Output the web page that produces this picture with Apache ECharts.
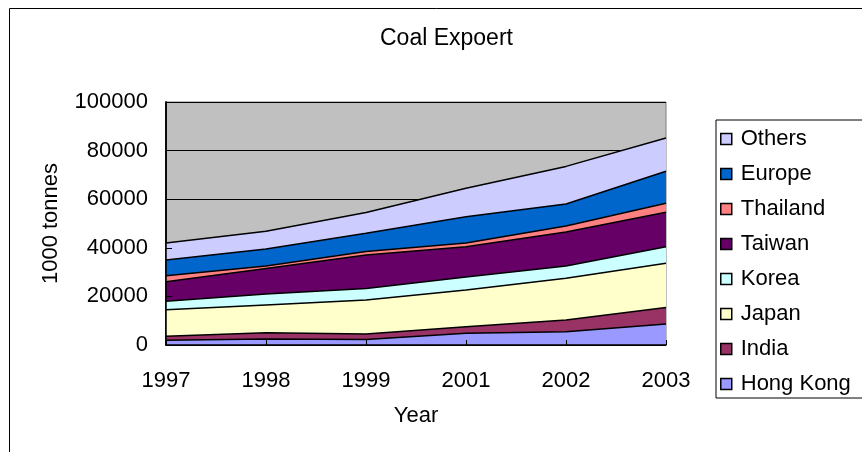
<!DOCTYPE html>
<html>
<head>
<meta charset="utf-8">
<script src="https://cdn.jsdelivr.net/npm/echarts@6/dist/echarts.min.js"></script>
<style>
  html, body { margin: 0; padding: 0; background: #fff; }
  #chart { width: 862px; height: 452px; }
</style>
</head>
<body>
<div id="chart"></div>
<script>
const years = ['1997', '1998', '1999', '2001', '2002', '2003']

const hongKong = [2000, 2500, 2300, 4800, 5500, 8600]
const india    = [1600, 2500, 2200, 2700, 4800, 6800]
const japan    = [10900, 11500, 14000, 15100, 17200, 18200]
const korea    = [3500, 4500, 4800, 5400, 5000, 6800]
const taiwan   = [8000, 10500, 13700, 12400, 14000, 14200]
const thailand = [2500, 1000, 1500, 1600, 2500, 3700]
const europe   = [6500, 7000, 7500, 10800, 9000, 13200]
const others   = [7000, 7300, 8500, 11700, 15500, 13700]

const legendOrder = ['Others', 'Europe', 'Thailand', 'Taiwan', 'Korea', 'Japan', 'India', 'Hong Kong']

const font = 'Liberation Sans, Arial, sans-serif'

function areaSeries(name, data, color) {
  return {
    name,
    type: 'line',
    stack: 'total',
    data,
    symbol: 'none',
    smooth: false,
    lineStyle: { color: '#000', width: 1.5 },
    itemStyle: { color },
    areaStyle: { color, opacity: 1 }
  }
}

const chart = echarts.init(document.getElementById('chart'))

chart.setOption({
  animation: false,
  textStyle: { fontFamily: font },
  title: {
    text: 'Coal Expoert',
    left: 375,
    top: 22,
    textStyle: { fontFamily: font, fontSize: 23, fontWeight: 'normal', color: '#000' }
  },
  graphic: [{
    type: 'rect',
    shape: { x: 9.5, y: 8.5, width: 900, height: 500 },
    style: { fill: 'none', stroke: '#000', lineWidth: 1 },
    silent: true
  }],
  legend: {
    orient: 'vertical',
    left: 716,
    top: 120,
    data: legendOrder,
    icon: 'rect',
    itemWidth: 11,
    itemHeight: 11,
    itemGap: 13,
    padding: [8, 60, 3, 4],
    borderColor: '#000',
    borderWidth: 1,
    backgroundColor: '#fff',
    itemStyle: { borderColor: '#000', borderWidth: 1.5 },
    lineStyle: { width: 0 },
    textStyle: { fontFamily: font, fontSize: 22, lineHeight: 22, color: '#000', padding: [0, 0, 0, 4] }
  },
  grid: {
    left: 166,
    right: 196,
    top: 102,
    bottom: 107,
    show: true,
    backgroundColor: '#C0C0C0',
    borderColor: '#808080',
    borderWidth: 1
  },
  xAxis: {
    type: 'category',
    data: years,
    boundaryGap: false,
    z: 5,
    name: 'Year',
    nameLocation: 'middle',
    nameGap: 60,
    nameTextStyle: { fontFamily: font, fontSize: 22, color: '#000' },
    axisLine: { lineStyle: { color: '#000', width: 1.5 } },
    axisTick: { inside: true, length: 5, lineStyle: { color: '#000' } },
    axisLabel: { fontFamily: font, fontSize: 22, color: '#000', margin: 25 }
  },
  yAxis: [{
    type: 'value',
    min: 0,
    max: 100000,
    interval: 20000,
    name: '1000 tonnes',
    nameLocation: 'middle',
    nameGap: 104,
    nameTextStyle: { fontFamily: font, fontSize: 22, color: '#000' },
    axisLine: { show: true, lineStyle: { color: '#000', width: 1.5 } },
    axisTick: { show: false },
    splitLine: { show: true, lineStyle: { color: '#000', width: 1 } },
    axisLabel: { fontFamily: font, fontSize: 22, color: '#000', margin: 18, formatter: v => String(v) }
  }, {
    type: 'value',
    position: 'left',
    min: 0,
    max: 100000,
    interval: 20000,
    z: 5,
    axisLine: { show: true, lineStyle: { color: '#000', width: 1.5 } },
    axisTick: { show: true, inside: true, length: 6, lineStyle: { color: '#000' } },
    splitLine: { show: false },
    axisLabel: { show: false }
  }],
  series: [
    areaSeries('Hong Kong', hongKong, '#9999FF'),
    areaSeries('India', india, '#993366'),
    areaSeries('Japan', japan, '#FFFFCC'),
    areaSeries('Korea', korea, '#CCFFFF'),
    areaSeries('Taiwan', taiwan, '#660066'),
    areaSeries('Thailand', thailand, '#FF8080'),
    areaSeries('Europe', europe, '#0066CC'),
    areaSeries('Others', others, '#CCCCFF')
  ]
})
</script>
</body>
</html>
